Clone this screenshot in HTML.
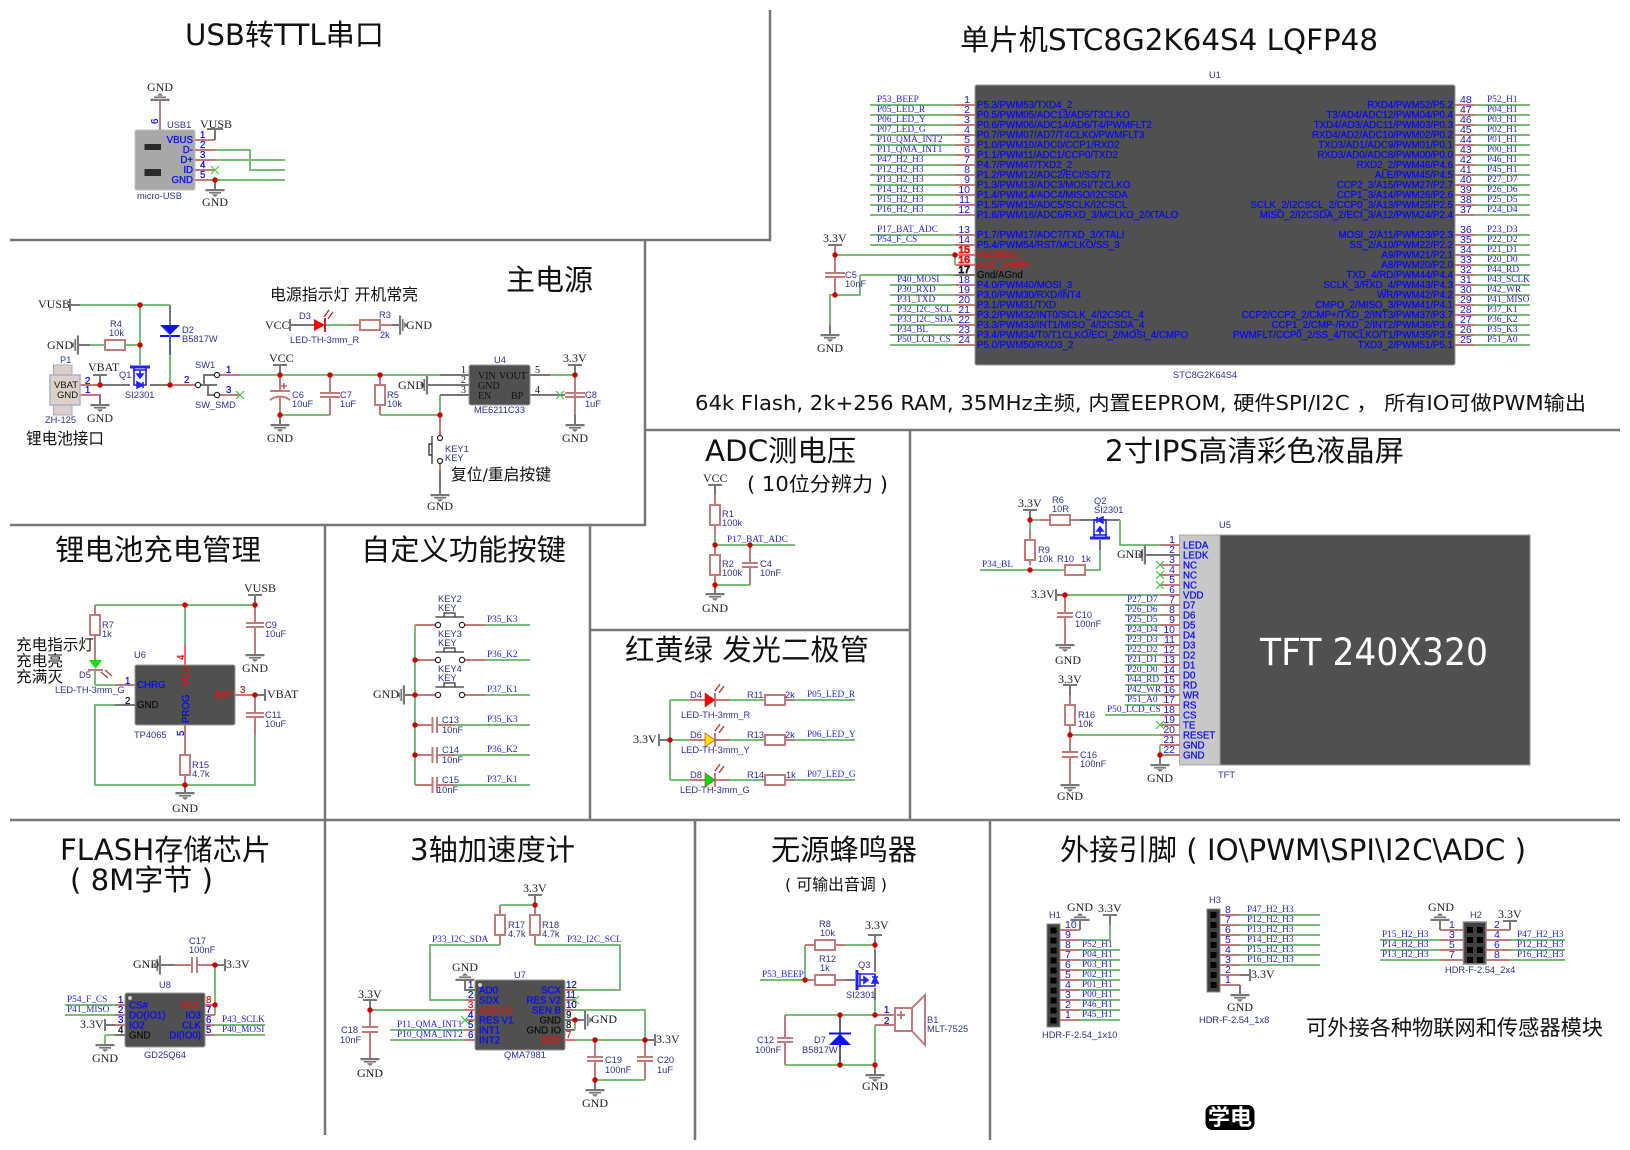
<!DOCTYPE html>
<html><head><meta charset="utf-8"><title>Schematic</title>
<style>
html,body{margin:0;padding:0;background:#fff}
svg{display:block;filter:blur(.3px)}
path,line{fill:none}
.w{stroke:#78bc78;stroke-width:2;fill:none}
.p{stroke:#c27a7a;stroke-width:2;fill:none}
.rp{stroke:#f06a6a;stroke-width:2;fill:none}
.g{stroke:#777;stroke-width:2;fill:none}
.f{stroke:#777;stroke-width:2.5;fill:none}
.r{fill:#fff;stroke:#c27a7a;stroke-width:2}
.ic{fill:#505050;stroke:#999;stroke-width:1}
text{white-space:pre}
.t{font-family:"DejaVu Sans","WenQuanYi Zen Hei","Noto Sans CJK SC",sans-serif;fill:#111}
.n text,.n{font-family:"Liberation Sans",serif;font-family:"Liberation Serif",serif;font-size:9.3px;fill:#2222ee}
.d text,.d{font-family:"Liberation Sans",sans-serif;font-size:9.3px;fill:#30309a}
.a text,.a{font-family:"Liberation Sans",sans-serif;font-size:9.7px;fill:#0a0aff;stroke:#0a0aff;stroke-width:.25px}
.k text,.k{font-family:"Liberation Sans",sans-serif;font-size:10.5px;fill:#1515e8}
.pw text,.pw{font-family:"Liberation Serif",serif;font-size:12px;fill:#222}
.e{text-anchor:end}
.m{text-anchor:middle}
.red{fill:#f01010!important;stroke:#f01010!important}
.blk{fill:#111!important;stroke:#111!important}
</style></head><body>
<svg xmlns="http://www.w3.org/2000/svg" width="1630" height="1150" viewBox="0 0 1630 1150">
<defs>
<g id="gd" fill="#777"><polygon points="-9.5,-1 9.5,-1 9.5,1.2 -9.5,1.2"/><polygon points="-6,2 6,2 6,3.6 -6,3.6"/><polygon points="-3,4.2 3,4.2 1,6.5 -1,6.5"/></g>
<path id="x" d="M-4-4L4 4M-4 4L4-4" stroke="#40cc40" stroke-width="1.2" fill="none"/>
<circle id="j" r="2.7" fill="#d00000"/>
<g id="q" fill="none" stroke="#2222ff" stroke-width="1.6"><path d="M-10-8H10" stroke-width="3"/><path d="M-7-5H7"/><path d="M-6-8V10H6V-8"/><path d="M0-5V2"/><polygon points="-3,-1 3,-1 0,3" fill="#2222ff"/><polygon points="-3,7 3,10 -3,13" fill="#2222ff"/><path d="M3 7V13"/></g>
<path id="la" d="M0 8L5 1M4 10L9 3" stroke="#c03030" stroke-width="1.4" fill="none"/>
</defs>
<rect width="1630" height="1150" fill="#fff"/>

<!-- frames -->
<path class="f" d="M770 10V240H10M645 240V525H10M645 430H1620M325 525V1135M590 525V820M590 630H910M910 430V820M10 820H1620M695 820V1140M990 820V1140"/>

<!-- titles -->
<g class="t">
<text x="185" y="45" font-size="29" textLength="199" lengthAdjust="spacingAndGlyphs">USB转TTL串口</text>
<text x="960" y="50" font-size="29" textLength="418" lengthAdjust="spacingAndGlyphs">单片机STC8G2K64S4 LQFP48</text>
<text x="506" y="290" font-size="29" textLength="87" lengthAdjust="spacingAndGlyphs">主电源</text>
<text x="270" y="300" font-size="16" textLength="148" lengthAdjust="spacingAndGlyphs">电源指示灯 开机常亮</text>
<text x="26" y="444" font-size="16" textLength="78" lengthAdjust="spacingAndGlyphs">锂电池接口</text>
<text x="451" y="480" font-size="16" textLength="100" lengthAdjust="spacingAndGlyphs">复位/重启按键</text>
<text x="695" y="410" font-size="20" textLength="891" lengthAdjust="spacingAndGlyphs">64k Flash, 2k+256 RAM, 35MHz主频, 内置EEPROM, 硬件SPI/I2C ， 所有IO可做PWM输出</text>
<text x="705" y="461" font-size="29" textLength="151" lengthAdjust="spacingAndGlyphs">ADC测电压</text>
<text x="747" y="491" font-size="20" textLength="141" lengthAdjust="spacingAndGlyphs">( 10位分辨力 )</text>
<text x="1105" y="461" font-size="29" textLength="299" lengthAdjust="spacingAndGlyphs">2寸IPS高清彩色液晶屏</text>
<text x="55" y="560" font-size="29" textLength="206" lengthAdjust="spacingAndGlyphs">锂电池充电管理</text>
<text x="361" y="560" font-size="29" textLength="205" lengthAdjust="spacingAndGlyphs">自定义功能按键</text>
<text x="625" y="660" font-size="29" textLength="244" lengthAdjust="spacingAndGlyphs">红黄绿 发光二极管</text>
<text x="60" y="860" font-size="29" textLength="211" lengthAdjust="spacingAndGlyphs">FLASH存储芯片</text>
<text x="70" y="890" font-size="29" textLength="143" lengthAdjust="spacingAndGlyphs">( 8M字节 )</text>
<text x="410" y="860" font-size="29" textLength="165" lengthAdjust="spacingAndGlyphs">3轴加速度计</text>
<text x="771" y="860" font-size="29" textLength="146" lengthAdjust="spacingAndGlyphs">无源蜂鸣器</text>
<text x="785" y="890" font-size="16" textLength="102" lengthAdjust="spacingAndGlyphs">( 可输出音调 )</text>
<text x="1060" y="860" font-size="29" textLength="466" lengthAdjust="spacingAndGlyphs">外接引脚 ( IO\PWM\SPI\I2C\ADC )</text>
<text x="1306" y="1035" font-size="21" textLength="297" lengthAdjust="spacingAndGlyphs">可外接各种物联网和传感器模块</text>
</g>
<rect x="1205.5" y="1105" width="49" height="25" rx="7" fill="#000"/>
<text x="1208" y="1125" font-size="22" font-weight="bold" fill="#fff" font-family="'Noto Sans CJK SC',sans-serif" textLength="44" lengthAdjust="spacingAndGlyphs">学电</text>

<!-- USB -->
<rect x="135" y="130" width="60" height="60" rx="2" fill="#a8a8a8" stroke="#c0c0c0"/>
<rect x="144.5" y="144" width="16.5" height="6" fill="#2a2a2a"/><rect x="144.5" y="169" width="16.5" height="7" fill="#2a2a2a"/>
<path class="p" d="M195 140H215M195 150H215M195 160H215M195 170H215M195 180H215M160 130V100"/>
<path class="w" d="M215 150H250V170H285M215 160H285M215 180H285"/>
<path class="g" d="M215 140V130M207 129H223M215 180V190"/>
<use href="#gd" transform="translate(215 190)"/><use href="#gd" transform="translate(160 100) rotate(180)"/>
<use href="#x" x="215" y="170"/><use href="#j" x="215" y="180"/>
<g class="pw"><text x="147" y="91">GND</text><text x="200" y="128">VUSB</text><text x="202" y="206">GND</text></g>
<g class="a">
<text x="193" y="143" class="e">VBUS</text><text x="193" y="153" class="e">D-</text><text x="193" y="163" class="e">D+</text><text x="193" y="173" class="e">ID</text><text x="193" y="183" class="e">GND</text>
<text x="200" y="138">1</text><text x="200" y="148">2</text><text x="200" y="158">3</text><text x="200" y="168">4</text><text x="200" y="178">5</text>
<text transform="translate(158 124) rotate(-90)">6</text>
</g>
<g class="d"><text x="167" y="128">USB1</text><text x="137" y="199">micro-USB</text></g>

<!-- Main power -->
<path class="w" d="M80 305H170M140 305V345M140 345V365M90 345H105M125 345H140M170 355V385M110 385H125M240 375H440M280 415H330M380 415H440M440 395V415M550 375H575"/>
<path class="g" d="M70 305H80M70 299V311M170 305V325M78 345H90M100 375V385M80 395H100V405M93 375H107M150 385H170M100 385H130"/>
<path class="p" d="M170 385H195M80 385H100M80 395H100M220 375H240M220 395H240M280 375V391M280 397V415M270 391H290M330 375V393M330 397V415M320 393H340M320 397H340M380 375V385M380 405V415M565 393H585M565 397H585M575 375V425M440 415V436M440 463V495"/>
<path class="g" d="M200 385H217M204 385V375H214M208 385V395H214M280 365V375M273 365H287M280 415V425M575 365V375M568 365H582M575 415V425M440 470V495M427 385H470M440 375H470M440 395H470M530 375H550M530 395H565"/>
<path d="M270 391H290" stroke="#c27a7a" stroke-width="2" fill="none"/><path d="M270 400Q280 393 290 400" stroke="#c27a7a" stroke-width="2" fill="none"/>
<path d="M284 383V389M281 386H287" stroke="#d04040" stroke-width="1.3" fill="none"/>
<rect class="r" x="105" y="340" width="20" height="10"/><rect class="r" x="375" y="385" width="10" height="20"/><rect class="r" x="360" y="320" width="20" height="10"/>
<polygon points="160,325 180,325 170,335" fill="#1010ff"/><path d="M160 336H180" stroke="#1010ff" stroke-width="2" fill="none"/><path d="M170 335V355" stroke="#5060c0" stroke-width="2" fill="none"/>
<use href="#gd" transform="translate(78 345) rotate(90)"/><use href="#gd" transform="translate(100 405)"/><use href="#gd" transform="translate(280 425)"/><use href="#gd" transform="translate(440 495)"/><use href="#gd" transform="translate(575 425)"/><use href="#gd" transform="translate(427 385) rotate(90)"/>
<rect x="53.5" y="365" width="18.5" height="50" fill="#dccfc9" stroke="#a8a8c8"/><rect x="50" y="375" width="30" height="30" fill="#ddd0c8" stroke="#a8b0cc" stroke-width="1.5"/>
<use href="#q" transform="translate(140 375)"/>
<g fill="#fff" stroke="#222" stroke-width="1.2"><circle cx="198" cy="385" r="2.6"/><circle cx="217" cy="375" r="2.6"/><circle cx="217" cy="395" r="2.6"/><circle cx="440" cy="438" r="2.5"/><circle cx="440" cy="461" r="2.5"/></g>
<path d="M432 436V464M429 444H432V455H429Z" stroke="#222" stroke-width="1.2" fill="none"/>
<use href="#j" x="140" y="305"/><use href="#j" x="140" y="345"/><use href="#j" x="100" y="385"/><use href="#j" x="170" y="385"/><use href="#j" x="280" y="375"/><use href="#j" x="330" y="375"/><use href="#j" x="380" y="375"/><use href="#j" x="280" y="415"/><use href="#j" x="440" y="415"/><use href="#j" x="575" y="375"/>
<use href="#x" x="240" y="395"/><use href="#x" x="560" y="395"/>
<rect class="ic" x="469" y="365" width="61" height="40" rx="2"/>
<g font-family="Liberation Serif" font-size="10" fill="#111"><text x="478" y="379">VIN</text><text x="499" y="379">VOUT</text><text x="478" y="389">GND</text><text x="478" y="399">EN</text><text x="511" y="399">BP</text>
<text x="461" y="373">1</text><text x="461" y="383">2</text><text x="461" y="393">3</text><text x="535" y="373">5</text><text x="535" y="393">4</text></g>
<g class="pw"><text x="38" y="308">VUSB</text><text x="47" y="349">GND</text><text x="88" y="371">VBAT</text><text x="87" y="422">GND</text><text x="269" y="362">VCC</text><text x="563" y="362">3.3V</text><text x="398" y="389">GND</text><text x="267" y="442">GND</text><text x="562" y="442">GND</text><text x="427" y="510">GND</text><text x="265" y="329">VCC</text><text x="406" y="329">GND</text></g>
<g font-family="Liberation Sans" font-size="9.5" fill="#111"><text x="54" y="388">VBAT</text><text x="57" y="398">GND</text></g>
<g class="a"><text x="85" y="384">2</text><text x="85" y="393">1</text><text x="184" y="383">2</text><text x="226" y="373">1</text><text x="226" y="393">3</text></g>
<g class="d"><text x="110" y="327">R4</text><text x="109" y="336">10k</text><text x="182" y="333">D2</text><text x="182" y="342">B5817W</text><text x="60" y="363">P1</text><text x="45" y="423">ZH-125</text><text x="119" y="378">Q1</text><text x="125" y="398">SI2301</text><text x="195" y="368">SW1</text><text x="195" y="408">SW_SMD</text><text x="292" y="398">C6</text><text x="292" y="407">10uF</text><text x="340" y="398">C7</text><text x="340" y="407">1uF</text><text x="387" y="398">R5</text><text x="387" y="407">10k</text><text x="445" y="452">KEY1</text><text x="445" y="461">KEY</text><text x="494" y="363">U4</text><text x="474" y="413">ME6211C33</text><text x="585" y="398">C8</text><text x="585" y="407">1uF</text><text x="299" y="319">D3</text><text x="379" y="318">R3</text><text x="380" y="338">2k</text><text x="290" y="343">LED-TH-3mm_R</text></g>
<!-- D3 -->
<path class="g" d="M290 319V331M290 325H314"/><path class="w" d="M325 325H350"/><path class="p" d="M350 325H360M380 325H392"/><path class="g" d="M392 325H400"/>
<polygon points="314,319 314,331 325,325" fill="#f00"/><path d="M325 318V332" stroke="#c22" stroke-width="2" fill="none"/><use href="#la" x="324" y="309"/><use href="#gd" transform="translate(400 325) rotate(-90)"/>

<!-- MCU -->
<rect x="975" y="85" width="480" height="280" rx="2" class="ic" stroke-width="1.5"/>
<path class="p" d="M955 105H975M955 115H975M955 125H975M955 135H975M955 145H975M955 155H975M955 165H975M955 175H975M955 185H975M955 195H975M955 205H975M955 215H975M955 235H975M955 245H975M955 285H975M955 295H975M955 305H975M955 315H975M955 325H975M955 335H975M955 345H975M1455 105H1475M1455 115H1475M1455 125H1475M1455 135H1475M1455 145H1475M1455 155H1475M1455 165H1475M1455 175H1475M1455 185H1475M1455 195H1475M1455 205H1475M1455 215H1475M1455 235H1475M1455 245H1475M1455 255H1475M1455 265H1475M1455 275H1475M1455 285H1475M1455 295H1475M1455 305H1475M1455 315H1475M1455 325H1475M1455 335H1475M1455 345H1475M835 245V273M835 277V295M825 273H845M825 277H845"/>
<path class="rp" d="M955 255H975M955 265H975"/><path class="g" d="M955 275H975M828 245H842M830 325V335"/>
<path class="w" d="M870 105H955M870 115H955M870 125H955M870 135H955M870 145H955M870 155H955M870 165H955M870 175H955M870 185H955M870 195H955M870 205H955M870 215H955M870 235H955M870 245H955M890 285H955M890 295H955M890 305H955M890 315H955M890 325H955M890 335H955M890 345H955M835 255H955V265M860 275H955M860 275V295H830V325M1475 105H1530M1475 115H1530M1475 125H1530M1475 135H1530M1475 145H1530M1475 155H1530M1475 165H1530M1475 175H1530M1475 185H1530M1475 195H1530M1475 205H1530M1475 215H1530M1475 235H1530M1475 245H1530M1475 255H1530M1475 265H1530M1475 275H1530M1475 285H1530M1475 295H1530M1475 305H1530M1475 315H1530M1475 325H1530M1475 335H1530M1475 345H1530"/>
<use href="#j" x="835" y="255"/><use href="#j" x="955" y="255"/><use href="#j" x="835" y="295"/><use href="#gd" transform="translate(830 335)"/>
<g class="pw"><text x="823" y="242">3.3V</text><text x="817" y="352">GND</text></g>
<g class="d"><text x="1209" y="78">U1</text><text x="1173" y="378">STC8G2K64S4</text><text x="845" y="278">C5</text><text x="845" y="287">10nF</text></g>
<g class="n">
<text x="877" y="102">P53_BEEP</text><text x="877" y="112">P05_LED_R</text><text x="877" y="122">P06_LED_Y</text><text x="877" y="132">P07_LED_G</text><text x="877" y="142">P10_QMA_INT2</text><text x="877" y="152">P11_QMA_INT1</text><text x="877" y="162">P47_H2_H3</text><text x="877" y="172">P12_H2_H3</text><text x="877" y="182">P13_H2_H3</text><text x="877" y="192">P14_H2_H3</text><text x="877" y="202">P15_H2_H3</text><text x="877" y="212">P16_H2_H3</text><text x="877" y="232">P17_BAT_ADC</text><text x="877" y="242">P54_F_CS</text>
<text x="897" y="282">P40_MOSI</text><text x="897" y="292">P30_RXD</text><text x="897" y="302">P31_TXD</text><text x="897" y="312">P32_I2C_SCL</text><text x="897" y="322">P33_I2C_SDA</text><text x="897" y="332">P34_BL</text><text x="897" y="342">P50_LCD_CS</text>
<text x="1487" y="102">P52_H1</text><text x="1487" y="112">P04_H1</text><text x="1487" y="122">P03_H1</text><text x="1487" y="132">P02_H1</text><text x="1487" y="142">P01_H1</text><text x="1487" y="152">P00_H1</text><text x="1487" y="162">P46_H1</text><text x="1487" y="172">P45_H1</text><text x="1487" y="182">P27_D7</text><text x="1487" y="192">P26_D6</text><text x="1487" y="202">P25_D5</text><text x="1487" y="212">P24_D4</text><text x="1487" y="232">P23_D3</text><text x="1487" y="242">P22_D2</text><text x="1487" y="252">P21_D1</text><text x="1487" y="262">P20_D0</text><text x="1487" y="272">P44_RD</text><text x="1487" y="282">P43_SCLK</text><text x="1487" y="292">P42_WR</text><text x="1487" y="302">P41_MISO</text><text x="1487" y="312">P37_K1</text><text x="1487" y="322">P36_K2</text><text x="1487" y="332">P35_K3</text><text x="1487" y="342">P51_A0</text>
</g>
<g class="k">
<text x="970" y="103" class="e">1</text><text x="970" y="113" class="e">2</text><text x="970" y="123" class="e">3</text><text x="970" y="133" class="e">4</text><text x="970" y="143" class="e">5</text><text x="970" y="153" class="e">6</text><text x="970" y="163" class="e">7</text><text x="970" y="173" class="e">8</text><text x="970" y="183" class="e">9</text><text x="970" y="193" class="e">10</text><text x="970" y="203" class="e">11</text><text x="970" y="213" class="e">12</text><text x="970" y="233" class="e">13</text><text x="970" y="243" class="e">14</text><text x="970" y="253" class="e red">15</text><text x="970" y="263" class="e red">16</text><text x="970" y="273" class="e blk">17</text><text x="970" y="283" class="e">18</text><text x="970" y="293" class="e">19</text><text x="970" y="303" class="e">20</text><text x="970" y="313" class="e">21</text><text x="970" y="323" class="e">22</text><text x="970" y="333" class="e">23</text><text x="970" y="343" class="e">24</text>
<text x="1460" y="103">48</text><text x="1460" y="113">47</text><text x="1460" y="123">46</text><text x="1460" y="133">45</text><text x="1460" y="143">44</text><text x="1460" y="153">43</text><text x="1460" y="163">42</text><text x="1460" y="173">41</text><text x="1460" y="183">40</text><text x="1460" y="193">39</text><text x="1460" y="203">38</text><text x="1460" y="213">37</text><text x="1460" y="233">36</text><text x="1460" y="243">35</text><text x="1460" y="253">34</text><text x="1460" y="263">33</text><text x="1460" y="273">32</text><text x="1460" y="283">31</text><text x="1460" y="293">30</text><text x="1460" y="303">29</text><text x="1460" y="313">28</text><text x="1460" y="323">27</text><text x="1460" y="333">26</text><text x="1460" y="343">25</text>
</g>
<g class="a" transform="translate(0 -.6)">
<text x="977" y="108.5">P5.3/PWM53/TXD4_2</text><text x="977" y="118.5">P0.5/PWM05/ADC13/AD5/T3CLKO</text><text x="977" y="128.5">P0.6/PWM06/ADC14/AD6/T4/PWMFLT2</text><text x="977" y="138.5">P0.7/PWM07/AD7/T4CLKO/PWMFLT3</text><text x="977" y="148.5">P1.0/PWM10/ADC0/CCP1/RXD2</text><text x="977" y="158.5">P1.1/PWM11/ADC1/CCP0/TXD2</text><text x="977" y="168.5">P4.7/PWM47/TXD2_2</text><text x="977" y="178.5">P1.2/PWM12/ADC2/ECI/SS/T2</text><text x="977" y="188.5">P1.3/PWM13/ADC3/MOSI/T2CLKO</text><text x="977" y="198.5">P1.4/PWM14/ADC4/MISO/I2CSDA</text><text x="977" y="208.5">P1.5/PWM15/ADC5/SCLK/I2CSCL</text><text x="977" y="218.5">P1.6/PWM16/ADC6/RXD_3/MCLKO_2/XTALO</text><text x="977" y="238.5">P1.7/PWM17/ADC7/TXD_3/XTALI</text><text x="977" y="248.5">P5.4/PWM54/RST/MCLKO/SS_3</text><text x="977" y="258.5" class="red">Vcc/AVcc</text><text x="977" y="268.5" class="red">ADC_VRef+</text><text x="977" y="278.5" class="blk">Gnd/AGnd</text><text x="977" y="288.5">P4.0/PWM40/MOSI_3</text><text x="977" y="298.5">P3.0/PWM30/RXD/INT4</text><text x="977" y="308.5">P3.1/PWM31/TXD</text><text x="977" y="318.5">P3.2/PWM32/INT0/SCLK_4/I2CSCL_4</text><text x="977" y="328.5">P3.3/PWM33/INT1/MISO_4/I2CSDA_4</text><text x="977" y="338.5">P3.4/PWM34/T0/T1CLKO/ECI_2/MOSI_4/CMPO</text><text x="977" y="348.5">P5.0/PWM50/RXD3_2</text>
<text x="1453" y="108.5" class="e">RXD4/PWM52/P5.2</text><text x="1453" y="118.5" class="e">T3/AD4/ADC12/PWM04/P0.4</text><text x="1453" y="128.5" class="e">TXD4/AD3/ADC11/PWM03/P0.3</text><text x="1453" y="138.5" class="e">RXD4/AD2/ADC10/PWM02/P0.2</text><text x="1453" y="148.5" class="e">TXD3/AD1/ADC9/PWM01/P0.1</text><text x="1453" y="158.5" class="e">RXD3/AD0/ADC8/PWM00/P0.0</text><text x="1453" y="168.5" class="e">RXD2_2/PWM46/P4.6</text><text x="1453" y="178.5" class="e">ALE/PWM45/P4.5</text><text x="1453" y="188.5" class="e">CCP2_3/A15/PWM27/P2.7</text><text x="1453" y="198.5" class="e">CCP1_3/A14/PWM26/P2.6</text><text x="1453" y="208.5" class="e">SCLK_2/I2CSCL_2/CCP0_3/A13/PWM25/P2.5</text><text x="1453" y="218.5" class="e">MISO_2/I2CSDA_2/ECI_3/A12/PWM24/P2.4</text><text x="1453" y="238.5" class="e">MOSI_2/A11/PWM23/P2.3</text><text x="1453" y="248.5" class="e">SS_2/A10/PWM22/P2.2</text><text x="1453" y="258.5" class="e">A9/PWM21/P2.1</text><text x="1453" y="268.5" class="e">A8/PWM20/P2.0</text><text x="1453" y="278.5" class="e">TXD_4/RD/PWM44/P4.4</text><text x="1453" y="288.5" class="e">SCLK_3/RXD_4/PWM43/P4.3</text><text x="1453" y="298.5" class="e">WR/PWM42/P4.2</text><text x="1453" y="308.5" class="e">CMPO_2/MISO_3/PWM41/P4.1</text><text x="1453" y="318.5" class="e">CCP2/CCP2_2/CMP+/TXD_2/INT3/PWM37/P3.7</text><text x="1453" y="328.5" class="e">CCP1_2/CMP-/RXD_2/INT2/PWM36/P3.6</text><text x="1453" y="338.5" class="e">PWMFLT/CCP0_2/SS_4/T0CLKO/T1/PWM35/P3.5</text><text x="1453" y="348.5" class="e">TXD3_2/PWM51/P5.1</text>
</g>

<!-- Charger -->
<rect class="ic" x="135" y="665" width="100" height="60" rx="2"/>
<path class="w" d="M95 605H255M185 605V645M95 685H115M115 705H95V785H255V735M95 669V685"/>
<path class="p" d="M95 605V615M95 635V660M115 685H135M255 605V623M255 627V655M246 623H264M246 627H264M255 695V713M255 717V735M246 713H264M246 717H264M185 725V755M185 775V785"/>
<path class="rp" d="M185 645V665M235 695H255"/>
<path class="g" d="M115 705H135M255 595V605M248 595H262M255 695H265M265 689V701M185 785V793"/>
<rect class="r" x="90" y="615" width="10" height="20"/><rect class="r" x="180" y="755" width="10" height="20"/>
<polygon points="89,660 102,660 95.5,669" fill="#10e010"/><path d="M88 670H103" stroke="#c27a7a" stroke-width="2" fill="none"/>
<path d="M101 672L108 678M105 670L112 676" stroke="#b04040" stroke-width="1.4" fill="none"/>
<use href="#j" x="185" y="605"/><use href="#j" x="255" y="605"/><use href="#j" x="255" y="695"/><use href="#j" x="185" y="785"/>
<use href="#gd" transform="translate(255 655)"/><use href="#gd" transform="translate(185 793)"/>
<g class="pw"><text x="244" y="592">VUSB</text><text x="242" y="672">GND</text><text x="267" y="698">VBAT</text><text x="172" y="812">GND</text></g>
<g class="d"><text x="102" y="628">R7</text><text x="102" y="637">1k</text><text x="265" y="628">C9</text><text x="265" y="637">10uF</text><text x="134" y="658">U6</text><text x="79" y="678">D5</text><text x="55" y="693">LED-TH-3mm_G</text><text x="134" y="738">TP4065</text><text x="265" y="718">C11</text><text x="265" y="727">10uF</text><text x="192" y="768">R15</text><text x="192" y="777">4.7k</text></g>
<g class="a"><text x="137" y="688">CHRG</text><text x="137" y="708" class="blk">GND</text><text x="233" y="698" class="e red">BAT</text><text x="125" y="684">1</text><text x="125" y="704" class="blk">2</text><text x="240" y="693" class="red">3</text>
<text transform="translate(189 686) rotate(-90)" class="red">VCC</text><text transform="translate(189 723) rotate(-90)">PROG</text><text transform="translate(184 660) rotate(-90)" class="red">4</text><text transform="translate(184 736) rotate(-90)">5</text></g>
<g class="t" font-size="15.5"><text x="16" y="650" textLength="78" lengthAdjust="spacingAndGlyphs">充电指示灯</text><text x="16" y="666" textLength="47" lengthAdjust="spacingAndGlyphs">充电亮</text><text x="16" y="682" textLength="47" lengthAdjust="spacingAndGlyphs">充满灭</text></g>

<!-- Keys -->
<path class="w" d="M415 625V785M485 625H530M485 660H530M485 695H530M455 725H530M455 755H530M455 785H530"/>
<path class="p" d="M415 625H436M415 660H436M415 695H436M464 625H485M464 660H485M464 695H485M415 725H432.5M415 755H432.5M415 785H432.5M437 725H455M437 755H455M437 785H455"/>
<path class="p" d="M432.5 717V733M437 717V733M432.5 747V763M437 747V763M432.5 777V793M437 777V793"/>
<path class="g" d="M404 695H415"/>
<path d="M435.5 617H464M444 617V613H455V617M435.5 652H464M444 652V648H455V652M435.5 687H464M444 687V683H455V687" stroke="#333" stroke-width="1.2" fill="none"/>
<g fill="#fff" stroke="#222" stroke-width="1.2"><circle cx="438" cy="625" r="2.6"/><circle cx="462" cy="625" r="2.6"/><circle cx="438" cy="660" r="2.6"/><circle cx="462" cy="660" r="2.6"/><circle cx="438" cy="695" r="2.6"/><circle cx="462" cy="695" r="2.6"/></g>
<use href="#j" x="415" y="660"/><use href="#j" x="415" y="695"/><use href="#j" x="415" y="725"/><use href="#j" x="415" y="755"/>
<use href="#gd" transform="translate(404 695) rotate(90)"/>
<text x="373" y="698" class="pw">GND</text>
<g class="d"><text x="438" y="602">KEY2</text><text x="438" y="611">KEY</text><text x="438" y="637">KEY3</text><text x="438" y="646">KEY</text><text x="438" y="672">KEY4</text><text x="438" y="681">KEY</text><text x="442" y="723">C13</text><text x="442" y="733">10nF</text><text x="442" y="753">C14</text><text x="442" y="763">10nF</text><text x="442" y="783">C15</text><text x="437" y="793">10nF</text></g>
<g class="n"><text x="487" y="622">P35_K3</text><text x="487" y="657">P36_K2</text><text x="487" y="692">P37_K1</text><text x="487" y="722">P35_K3</text><text x="487" y="752">P36_K2</text><text x="487" y="782">P37_K1</text></g>

<!-- ADC -->
<path class="g" d="M708 485H722M715 485V495M715 585V594"/>
<path class="p" d="M715 495V505M715 525V535M715 545V555M715 575V585M750 545V563M750 567V585M742 563H758M742 567H758"/>
<path class="w" d="M715 535V545H795M715 585H750"/>
<rect class="r" x="710" y="505" width="10" height="20"/><rect class="r" x="710" y="555" width="10" height="20"/>
<use href="#j" x="715" y="545"/><use href="#j" x="750" y="545"/><use href="#j" x="715" y="585"/><use href="#gd" transform="translate(715 594)"/>
<g class="pw"><text x="703" y="482">VCC</text><text x="702" y="612">GND</text></g>
<text x="727" y="542" class="n">P17_BAT_ADC</text>
<g class="d"><text x="722" y="517">R1</text><text x="722" y="526">100k</text><text x="722" y="567">R2</text><text x="722" y="576">100k</text><text x="760" y="567">C4</text><text x="760" y="576">10nF</text></g>

<!-- LEDs -->
<path class="g" d="M659 734V746M659 740H670"/>
<path class="w" d="M670 700V780M670 700H690M670 740H690M670 780H690M730 700H765M730 740H765M730 780H765M795 700H855M795 740H855M795 780H855"/>
<path class="p" d="M690 700H705M690 740H705M690 780H705M715 700H730M715 740H730M715 780H730M715 693V707M715 733V747M715 773V787M785 700H795M785 740H795M785 780H795"/>
<rect class="r" x="765" y="695" width="20" height="10"/><rect class="r" x="765" y="735" width="20" height="10"/><rect class="r" x="765" y="775" width="20" height="10"/>
<polygon points="705,693 705,707 715,700" fill="#f00" stroke="#b33" stroke-width=".6"/><polygon points="705,733 705,747 715,740" fill="#ffe000" stroke="#b33" stroke-width=".6"/><polygon points="705,773 705,787 715,780" fill="#00e000" stroke="#b33" stroke-width=".6"/>
<use href="#la" x="715" y="683"/><use href="#la" x="715" y="723"/><use href="#la" x="715" y="763"/>
<use href="#j" x="670" y="740"/>
<text x="633" y="743" class="pw">3.3V</text>
<g class="d"><text x="690" y="698">D4</text><text x="747" y="698">R11</text><text x="785" y="698">2k</text><text x="681" y="718">LED-TH-3mm_R</text><text x="690" y="738">D6</text><text x="747" y="738">R13</text><text x="785" y="738">2k</text><text x="681" y="753">LED-TH-3mm_Y</text><text x="690" y="778">D8</text><text x="747" y="778">R14</text><text x="786" y="778">1k</text><text x="680" y="793">LED-TH-3mm_G</text></g>
<g class="n"><text x="807" y="697">P05_LED_R</text><text x="807" y="737">P06_LED_Y</text><text x="807" y="777">P07_LED_G</text></g>

<!-- TFT -->
<rect x="1179.5" y="535" width="40.5" height="230" fill="#c8c8c8" stroke="#aaa"/>
<rect x="1220" y="535" width="310" height="230" fill="#505050" stroke="#999"/>
<text x="1260" y="665" class="t" style="fill:#fff" font-size="37" textLength="228" lengthAdjust="spacingAndGlyphs">TFT 240X320</text>
<path class="p" d="M1160 545H1180M1160 565H1180M1160 575H1180M1160 585H1180M1160 595H1180M1160 605H1180M1160 615H1180M1160 625H1180M1160 635H1180M1160 645H1180M1160 655H1180M1160 665H1180M1160 675H1180M1160 685H1180M1160 695H1180M1160 705H1180M1160 715H1180M1160 725H1180M1160 735H1180M1160 745H1180M1160 755H1180M1040 520H1050M1070 520H1080M1030 530V540M1030 560V565M1065 595V613M1065 617V645M1057 613H1073M1057 617H1073M1070 695V705M1070 725V735M1070 735V752M1070 757V785M1062 752H1078M1062 757H1078"/>
<path class="g" d="M1080 520H1120M1145 555H1180M1023 510H1037M1030 510V520M1056 589V601M1056 595H1065M1063 685H1077M1070 685V695M1100 540V550M1160 755V765"/>
<path class="w" d="M1030 520H1040M1030 520V530M1120 520V545H1160M980 570H1065M1085 570H1100V550M1065 595H1160M1125 605H1160M1125 615H1160M1125 625H1160M1125 635H1160M1125 645H1160M1125 655H1160M1125 665H1160M1125 675H1160M1125 685H1160M1125 695H1160M1125 705H1160M1105 715H1160M1070 735H1160M1160 745V755"/>
<rect class="r" x="1050" y="515" width="20" height="10"/><rect class="r" x="1025" y="540" width="10" height="20"/><rect class="r" x="1065" y="565" width="20" height="10"/><rect class="r" x="1065" y="705" width="10" height="20"/>
<use href="#q" transform="translate(1100 530) rotate(180)"/>
<use href="#j" x="1030" y="520"/><use href="#j" x="1030" y="570"/><use href="#j" x="1065" y="595"/><use href="#j" x="1070" y="735"/><use href="#j" x="1160" y="755"/>
<use href="#x" x="1160" y="565"/><use href="#x" x="1160" y="575"/><use href="#x" x="1160" y="585"/><use href="#x" x="1160" y="725"/>
<use href="#gd" transform="translate(1145 555) rotate(90)"/><use href="#gd" transform="translate(1065 645)"/><use href="#gd" transform="translate(1070 785)"/><use href="#gd" transform="translate(1160 765)"/>
<g class="pw"><text x="1018" y="507">3.3V</text><text x="1117" y="558">GND</text><text x="1031" y="598">3.3V</text><text x="1055" y="664">GND</text><text x="1058" y="683">3.3V</text><text x="1057" y="800">GND</text><text x="1147" y="782">GND</text></g>
<g class="d"><text x="1052" y="503">R6</text><text x="1052" y="512">10R</text><text x="1094" y="504">Q2</text><text x="1094" y="513">SI2301</text><text x="1219" y="528">U5</text><text x="1218" y="778">TFT</text><text x="1038" y="553">R9</text><text x="1038" y="562">10k</text><text x="1057" y="562">R10</text><text x="1081" y="562">1k</text><text x="1075" y="618">C10</text><text x="1075" y="627">100nF</text><text x="1078" y="718">R16</text><text x="1078" y="727">10k</text><text x="1080" y="758">C16</text><text x="1080" y="767">100nF</text></g>
<g class="n"><text x="982" y="567">P34_BL</text><text x="1127" y="602">P27_D7</text><text x="1127" y="612">P26_D6</text><text x="1127" y="622">P25_D5</text><text x="1127" y="632">P24_D4</text><text x="1127" y="642">P23_D3</text><text x="1127" y="652">P22_D2</text><text x="1127" y="662">P21_D1</text><text x="1127" y="672">P20_D0</text><text x="1127" y="682">P44_RD</text><text x="1127" y="692">P42_WR</text><text x="1127" y="702">P51_A0</text><text x="1107" y="712">P50_LCD_CS</text></g>
<g class="k"><text x="1175" y="543" class="e">1</text><text x="1175" y="553" class="e">2</text><text x="1175" y="563" class="e">3</text><text x="1175" y="573" class="e">4</text><text x="1175" y="583" class="e">5</text><text x="1175" y="593" class="e">6</text><text x="1175" y="603" class="e">7</text><text x="1175" y="613" class="e">8</text><text x="1175" y="623" class="e">9</text><text x="1175" y="633" class="e">10</text><text x="1175" y="643" class="e">11</text><text x="1175" y="653" class="e">12</text><text x="1175" y="663" class="e">13</text><text x="1175" y="673" class="e">14</text><text x="1175" y="683" class="e">15</text><text x="1175" y="693" class="e">16</text><text x="1175" y="703" class="e">17</text><text x="1175" y="713" class="e">18</text><text x="1175" y="723" class="e">19</text><text x="1175" y="733" class="e">20</text><text x="1175" y="743" class="e">21</text><text x="1175" y="753" class="e">22</text></g>
<g class="a"><text x="1183" y="548.5">LEDA</text><text x="1183" y="558.5">LEDK</text><text x="1183" y="568.5">NC</text><text x="1183" y="578.5">NC</text><text x="1183" y="588.5">NC</text><text x="1183" y="598.5">VDD</text><text x="1183" y="608.5">D7</text><text x="1183" y="618.5">D6</text><text x="1183" y="628.5">D5</text><text x="1183" y="638.5">D4</text><text x="1183" y="648.5">D3</text><text x="1183" y="658.5">D2</text><text x="1183" y="668.5">D1</text><text x="1183" y="678.5">D0</text><text x="1183" y="688.5">RD</text><text x="1183" y="698.5">WR</text><text x="1183" y="708.5">RS</text><text x="1183" y="718.5">CS</text><text x="1183" y="728.5">TE</text><text x="1183" y="738.5">RESET</text><text x="1183" y="748.5">GND</text><text x="1183" y="758.5">GND</text></g>

<!-- FLASH -->
<rect class="ic" x="125" y="993" width="80" height="54" rx="2"/><circle cx="130" cy="998" r="2" fill="#ccc"/>
<path class="p" d="M115 1005H125M115 1015H125M115 1025H125M205 1015H215M205 1025H215M205 1035H215M175 965H192M197 965H215M192 957V973M197 957V973"/>
<path class="rp" d="M205 1005H215"/>
<path class="g" d="M115 1035H125M105 1019V1031M105 1025H115M160 965H175M225 959V971M215 965H225"/>
<path class="w" d="M65 1005H115M65 1015H115M105 1035H115M105 1035V1045M215 965V1015M215 1025H265M215 1035H265"/>
<use href="#j" x="215" y="965"/><use href="#j" x="215" y="1005"/><use href="#gd" transform="translate(105 1045)"/><use href="#gd" transform="translate(160 965) rotate(90)"/>
<g class="pw"><text x="133" y="968">GND</text><text x="226" y="968">3.3V</text><text x="80" y="1028">3.3V</text><text x="92" y="1062">GND</text></g>
<g class="d"><text x="189" y="944">C17</text><text x="189" y="953">100nF</text><text x="159" y="988">U8</text><text x="144" y="1058">GD25Q64</text></g>
<g class="n"><text x="67" y="1002">P54_F_CS</text><text x="67" y="1012">P41_MISO</text><text x="222" y="1022">P43_SCLK</text><text x="222" y="1032">P40_MOSI</text></g>
<g class="a"><text x="129" y="1008.5">CS#</text><text x="129" y="1018.5">DO(IO1)</text><text x="129" y="1028.5">IO2</text><text x="129" y="1038.5" class="blk">GND</text><text x="201" y="1008.5" class="e red">VCC</text><text x="201" y="1018.5" class="e">IO3</text><text x="201" y="1028.5" class="e">CLK</text><text x="201" y="1038.5" class="e">DI(IO0)</text>
<text x="118" y="1003">1</text><text x="118" y="1013">2</text><text x="118" y="1023">3</text><text x="118" y="1033" class="blk">4</text><text x="206" y="1003" class="red">8</text><text x="206" y="1013">7</text><text x="206" y="1023">6</text><text x="206" y="1033">5</text></g>

<!-- QMA -->
<rect class="ic" x="475" y="980" width="90" height="70" rx="2"/><circle cx="480" cy="985" r="2" fill="#ccc"/>
<path class="p" d="M465 990H475M465 1000H475M465 1020H475M465 1030H475M465 1040H475M565 990H575M565 1000H575M565 1010H575M535 905V915M500 905V915M500 935V945M535 935V945M370 1010V1027M370 1032V1059M362 1027H378M362 1032H378M595 1040V1057M595 1061V1080M587 1057H603M587 1061H603M645 1040V1057M645 1061V1080M637 1057H653M637 1061H653"/>
<path class="rp" d="M465 1010H475M565 1040H575"/>
<path class="g" d="M528 895H542M535 895V905M465 980V990H475M363 1000H377M370 1000V1010M565 1020H585M565 1030H575M655 1034V1046M645 1040H655M595 1080V1090"/>
<path class="w" d="M500 905H535M500 945H430V1000H465M535 945H620V990H575M370 1010H465M390 1030H465M390 1040H465M575 1010H645V1040M575 1040H645M595 1080H645M575 1020V1030"/>
<rect class="r" x="495" y="915" width="10" height="20"/><rect class="r" x="530" y="915" width="10" height="20"/>
<use href="#j" x="535" y="905"/><use href="#j" x="370" y="1010"/><use href="#j" x="575" y="1020"/><use href="#j" x="595" y="1040"/><use href="#j" x="645" y="1040"/><use href="#j" x="595" y="1080"/>
<use href="#x" x="465" y="1020"/><use href="#x" x="575" y="1000"/>
<use href="#gd" transform="translate(465 980) rotate(180)"/><use href="#gd" transform="translate(370 1059)"/><use href="#gd" transform="translate(585 1020) rotate(-90)"/><use href="#gd" transform="translate(595 1090)"/>
<g class="pw"><text x="523" y="892">3.3V</text><text x="452" y="971">GND</text><text x="358" y="998">3.3V</text><text x="357" y="1077">GND</text><text x="591" y="1023">GND</text><text x="656" y="1043">3.3V</text><text x="582" y="1107">GND</text></g>
<g class="d"><text x="508" y="928">R17</text><text x="508" y="937">4.7k</text><text x="542" y="928">R18</text><text x="542" y="937">4.7k</text><text x="514" y="978">U7</text><text x="504" y="1058">QMA7981</text><text x="341" y="1033">C18</text><text x="340" y="1043">10nF</text><text x="605" y="1063">C19</text><text x="605" y="1073">100nF</text><text x="657" y="1063">C20</text><text x="657" y="1073">1uF</text></g>
<g class="n"><text x="432" y="942">P33_I2C_SDA</text><text x="567" y="942">P32_I2C_SCL</text><text x="397" y="1027">P11_QMA_INT1</text><text x="397" y="1037">P10_QMA_INT2</text></g>
<g class="a"><text x="479" y="993.5">AD0</text><text x="479" y="1003.5">SDX</text><text x="479" y="1013.5" class="red">VDD IO</text><text x="479" y="1023.5">RES V1</text><text x="479" y="1033.5">INT1</text><text x="479" y="1043.5">INT2</text>
<text x="561" y="993.5" class="e">SCX</text><text x="561" y="1003.5" class="e">RES V2</text><text x="561" y="1013.5" class="e">SEN B</text><text x="561" y="1023.5" class="e blk">GND</text><text x="561" y="1033.5" class="e blk">GND IO</text><text x="561" y="1043.5" class="e red">VDD</text>
<text x="468" y="988">1</text><text x="468" y="998">2</text><text x="468" y="1008" class="red">3</text><text x="468" y="1018">4</text><text x="468" y="1028">5</text><text x="468" y="1038">6</text><text x="566" y="988">12</text><text x="566" y="998">11</text><text x="566" y="1008">10</text><text x="566" y="1018" class="blk">9</text><text x="566" y="1028" class="blk">8</text><text x="566" y="1038" class="red">7</text></g>

<!-- Buzzer -->
<path class="g" d="M868 935H882M875 935V945M875 950V972M845 980H855M875 988V1000M875 1065V1075"/>
<path class="w" d="M805 945H815M835 945H875V950M805 945V980M760 980H815M875 1000V1015H785M785 1015V1030M785 1065H875V1025M785 1050V1065"/>
<path class="p" d="M805 945H815M835 945H845M815 980H805M835 980H845M875 1015H895M875 1025H895M785 1015V1038M785 1042V1065M777 1038H793M777 1042H793"/>
<rect class="r" x="815" y="940" width="20" height="10"/><rect class="r" x="815" y="975" width="20" height="10"/>
<use href="#q" transform="translate(865 980) rotate(-90)"/>
<path d="M840 1015V1065" stroke="#606060" stroke-width="2" fill="none"/><polygon points="840,1034 829,1045 851,1045" fill="#1010ff"/><path d="M829 1033.5H851" stroke="#1010ff" stroke-width="2" fill="none"/><path d="M840 1033V1047" stroke="#1010ff" stroke-width="2" fill="none"/>
<path class="p" d="M895 1008H912V1031H895ZM912 1008L925 995V1045L912 1031M897 1015H905M901 1011V1019"/>
<use href="#j" x="875" y="945"/><use href="#j" x="805" y="980"/><use href="#j" x="840" y="1015"/><use href="#j" x="875" y="1015"/><use href="#j" x="840" y="1065"/><use href="#j" x="875" y="1065"/>
<use href="#gd" transform="translate(875 1075)"/>
<g class="pw"><text x="865" y="929">3.3V</text><text x="862" y="1090">GND</text></g>
<text x="762" y="977" class="n">P53_BEEP</text>
<g class="d"><text x="819" y="927">R8</text><text x="820" y="936">10k</text><text x="819" y="962">R12</text><text x="820" y="971">1k</text><text x="858" y="968">Q3</text><text x="846" y="998">SI2301</text><text x="757" y="1043">C12</text><text x="755" y="1053">100nF</text><text x="814" y="1043">D7</text><text x="802" y="1053">B5817W</text><text x="927" y="1023">B1</text><text x="927" y="1032">MLT-7525</text></g>
<g class="a"><text x="884" y="1013">1</text><text x="884" y="1024">2</text></g>

<!-- H1 -->
<rect x="1047" y="924" width="13" height="103" fill="#404040" stroke="#888"/>
<g fill="#000"><rect x="1050.5" y="927.5" width="6" height="6"/><rect x="1050.5" y="937.5" width="6" height="6"/><rect x="1050.5" y="947.5" width="6" height="6"/><rect x="1050.5" y="957.5" width="6" height="6"/><rect x="1050.5" y="967.5" width="6" height="6"/><rect x="1050.5" y="977.5" width="6" height="6"/><rect x="1050.5" y="987.5" width="6" height="6"/><rect x="1050.5" y="997.5" width="6" height="6"/><rect x="1050.5" y="1007.5" width="6" height="6"/><rect x="1050.5" y="1017.5" width="6" height="6"/></g>
<path class="p" d="M1060 930H1080M1060 940H1080M1060 950H1080M1060 960H1080M1060 970H1080M1060 980H1080M1060 990H1080M1060 1000H1080M1060 1010H1080M1060 1020H1080"/>
<path class="g" d="M1080 930V920M1103 915H1117M1110 915V925"/>
<path class="w" d="M1080 940H1110V925M1080 950H1120M1080 960H1120M1080 970H1120M1080 980H1120M1080 990H1120M1080 1000H1120M1080 1010H1120M1080 1020H1120"/>
<use href="#gd" transform="translate(1080 920) rotate(180)"/>
<g class="pw"><text x="1067" y="911">GND</text><text x="1098" y="912">3.3V</text></g>
<g class="d"><text x="1049" y="918">H1</text><text x="1042" y="1038">HDR-F-2.54_1x10</text></g>
<g class="k"><text x="1065" y="928">10</text><text x="1065" y="938">9</text><text x="1065" y="948">8</text><text x="1065" y="958">7</text><text x="1065" y="968">6</text><text x="1065" y="978">5</text><text x="1065" y="988">4</text><text x="1065" y="998">3</text><text x="1065" y="1008">2</text><text x="1065" y="1018">1</text></g>
<g class="n"><text x="1082" y="947">P52_H1</text><text x="1082" y="957">P04_H1</text><text x="1082" y="967">P03_H1</text><text x="1082" y="977">P02_H1</text><text x="1082" y="987">P01_H1</text><text x="1082" y="997">P00_H1</text><text x="1082" y="1007">P46_H1</text><text x="1082" y="1017">P45_H1</text></g>

<!-- H3 -->
<rect x="1207" y="909" width="13" height="83" fill="#404040" stroke="#888"/>
<g fill="#000"><rect x="1210.5" y="912" width="6" height="6"/><rect x="1210.5" y="922" width="6" height="6"/><rect x="1210.5" y="932" width="6" height="6"/><rect x="1210.5" y="942" width="6" height="6"/><rect x="1210.5" y="952" width="6" height="6"/><rect x="1210.5" y="962" width="6" height="6"/><rect x="1210.5" y="972" width="6" height="6"/><rect x="1210.5" y="982" width="6" height="6"/></g>
<path class="p" d="M1220 915H1240M1220 925H1240M1220 935H1240M1220 945H1240M1220 955H1240M1220 965H1240M1220 975H1240M1220 985H1240"/>
<path class="g" d="M1240 975H1250M1250 969V981M1240 985V995"/>
<path class="w" d="M1240 915H1320M1240 925H1320M1240 935H1320M1240 945H1320M1240 955H1320M1240 965H1320"/>
<use href="#gd" transform="translate(1240 995)"/>
<g class="pw"><text x="1251" y="978">3.3V</text><text x="1227" y="1011">GND</text></g>
<g class="d"><text x="1209" y="903">H3</text><text x="1199" y="1023">HDR-F-2.54_1x8</text></g>
<g class="k"><text x="1225" y="913">8</text><text x="1225" y="923">7</text><text x="1225" y="933">6</text><text x="1225" y="943">5</text><text x="1225" y="953">4</text><text x="1225" y="963">3</text><text x="1225" y="973">2</text><text x="1225" y="983">1</text></g>
<g class="n"><text x="1247" y="912">P47_H2_H3</text><text x="1247" y="922">P12_H2_H3</text><text x="1247" y="932">P13_H2_H3</text><text x="1247" y="942">P14_H2_H3</text><text x="1247" y="952">P15_H2_H3</text><text x="1247" y="962">P16_H2_H3</text></g>

<!-- H2 -->
<rect x="1463.5" y="922" width="22.5" height="42" fill="#404040" stroke="#888" stroke-width="1.5"/>
<g fill="#000"><rect x="1467" y="927" width="6" height="6"/><rect x="1477" y="927" width="6" height="6"/><rect x="1467" y="937" width="6" height="6"/><rect x="1477" y="937" width="6" height="6"/><rect x="1467" y="947" width="6" height="6"/><rect x="1477" y="947" width="6" height="6"/><rect x="1467" y="957" width="6" height="6"/><rect x="1477" y="957" width="6" height="6"/></g>
<path class="p" d="M1440 930H1463M1440 940H1463M1440 950H1463M1440 960H1463M1486 930H1510M1486 940H1510M1486 950H1510M1486 960H1510"/>
<path class="g" d="M1440 930V920M1510 930V921M1503 921H1517"/>
<path class="w" d="M1380 940H1440M1380 950H1440M1380 960H1440M1510 940H1565M1510 950H1565M1510 960H1565"/>
<use href="#gd" transform="translate(1440 920) rotate(180)"/>
<g class="pw"><text x="1428" y="911">GND</text><text x="1498" y="918">3.3V</text></g>
<g class="d"><text x="1470" y="918">H2</text><text x="1445" y="973">HDR-F-2.54_2x4</text></g>
<g class="k"><text x="1449" y="928">1</text><text x="1449" y="938">3</text><text x="1449" y="948">5</text><text x="1449" y="958">7</text><text x="1494" y="928">2</text><text x="1494" y="938">4</text><text x="1494" y="948">6</text><text x="1494" y="958">8</text></g>
<g class="n"><text x="1382" y="937">P15_H2_H3</text><text x="1382" y="947">P14_H2_H3</text><text x="1382" y="957">P13_H2_H3</text><text x="1517" y="937">P47_H2_H3</text><text x="1517" y="947">P12_H2_H3</text><text x="1517" y="957">P16_H2_H3</text></g>
</svg>
</body></html>
